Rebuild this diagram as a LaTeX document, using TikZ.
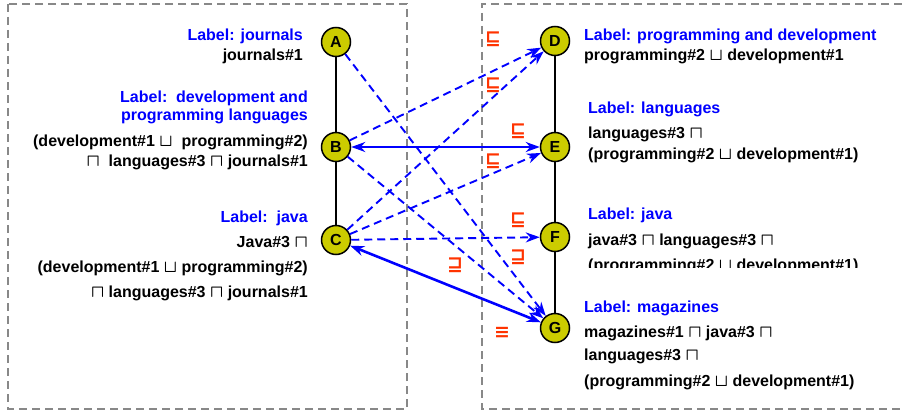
\documentclass[tikz,border=0pt]{standalone}
\usepackage{fontspec}
\setmainfont{Liberation Sans}
\newfontfamily\relfont{DejaVu Sans}
\usepackage{xcolor}
\usetikzlibrary{arrows.meta}
\definecolor{conceptfill}{HTML}{CCCC00}
\definecolor{relred}{HTML}{FF3300}
\definecolor{boxgray}{HTML}{888888}
\definecolor{lblblue}{HTML}{0000FF}

\begin{document}
\begin{tikzpicture}[
    x=1pt, y=-1pt,
    font=\fontsize{16}{19}\selectfont\bfseries\boldmath,
    concept/.style={circle, draw, line width=1.5pt, fill=conceptfill, minimum size=29pt, inner sep=0pt},
    lbl/.style={text=lblblue, inner sep=0pt},
    expr/.style={inner sep=0pt},
    rel/.style={text=relred, inner sep=0pt, font=\relfont\fontsize{19}{22}\selectfont\bfseries},
    groupbox/.style={draw=boxgray, line width=1.5pt, dash pattern=on 8pt off 5pt},
    link/.style={black, line width=1.3pt},
    subarrow/.style={-{Stealth[length=14pt, width=10pt]}, lblblue, line width=1.9pt, dash pattern=on 8pt off 5pt},
    eqarrow/.style={{Stealth[length=14pt, width=10pt]}-{Stealth[length=14pt, width=10pt]}, lblblue, line width=2.6pt}
]
\useasboundingbox (0,0) rectangle (902,412);

% Two dashed groups
\draw[groupbox] (8,4) rectangle (407,409);
\draw[groupbox] (902,4) -- (482,4) -- (482,409) -- (902,409);

% Left concepts
\node[concept] (A) at (336,42) {A};
\node[concept] (B) at (336,147) {B};
\node[concept] (C) at (336,240) {C};

% Right concepts
\node[concept] (D) at (555,41) {D};
\node[concept] (E) at (555,147) {E};
\node[concept] (F) at (555,237) {F};
\node[concept] (G) at (555,328) {G};

% Hierarchy lines
\draw[link] (A) -- (B);
\draw[link] (B) -- (C);
\draw[link] (D) -- (E);
\draw[link] (E) -- (F);
\draw[link] (F) -- (G);

% Left labels
\node[lbl, anchor=base east] (la1) at (303,41) {Label: journals};
\node[expr, anchor=base east] (la2) at (303,60) {journals\#1};
\node[lbl, anchor=base east] (lb1) at (308,102) {Label:~~development and};
\node[lbl, anchor=base east] (lb2) at (308,120) {programming languages};
\node[expr, anchor=base east] (lb3) at (308,146) {(development\#1 $\sqcup$~~programming\#2)};
\node[expr, anchor=base east] (lb4) at (308,166) {$\sqcap$~~languages\#3 $\sqcap$ journals\#1};
\node[lbl, anchor=base east] (lc1) at (308,222) {Label:~~java};
\node[expr, anchor=base east] (lc2) at (308,247) {Java\#3 $\sqcap$};
\node[expr, anchor=base east] (lc3) at (308,272) {(development\#1 $\sqcup$ programming\#2)};
\node[expr, anchor=base east] (lc4) at (308,297) {$\sqcap$ languages\#3 $\sqcap$ journals\#1};

% Right labels
\node[lbl, anchor=base west] (ld1) at (584,41) {Label: programming and development};
\node[expr, anchor=base west] (ld2) at (584,61) {programming\#2 $\sqcup$ development\#1};
\node[lbl, anchor=base west] (le1) at (588,113) {Label: languages};
\node[expr, anchor=base west] (le2) at (588,138) {languages\#3 $\sqcap$};
\node[expr, anchor=base west] (le3) at (588,159) {(programming\#2 $\sqcup$ development\#1)};
\node[lbl, anchor=base west] (lf1) at (588,219) {Label: java};
\node[expr, anchor=base west] (lf2) at (588,245) {java\#3 $\sqcap$ languages\#3 $\sqcap$};
\begin{scope}
  \clip (570,250) rectangle (902,267.5);
  \node[expr, anchor=base west] (lf3) at (588,270) {(programming\#2 $\sqcup$ development\#1)};
\end{scope}
\node[lbl, anchor=base west] (lg1) at (584,312) {Label: magazines};
\node[expr, anchor=base west] (lg2) at (584,337) {magazines\#1 $\sqcap$ java\#3 $\sqcap$};
\node[expr, anchor=base west] (lg3) at (584,360) {languages\#3 $\sqcap$};
\node[expr, anchor=base west] (lg4) at (584,386) {(programming\#2 $\sqcup$ development\#1)};

% Mappings between the groups
\draw[subarrow] (A) -- (G);
\draw[subarrow] (B) -- (D);
\draw[subarrow] (B) -- (G);
\draw[subarrow] (C) -- (D);
\draw[subarrow] (C) -- (E);
\draw[subarrow] (C) -- (F);
\draw[eqarrow] (B) -- (E);
\draw[eqarrow] (C) -- (G);

% Relation symbols
\node[rel] (s1) at (493,39) {⊑};
\node[rel] (s2) at (493,85) {⊑};
\node[rel] (s3) at (518,131) {⊑};
\node[rel] (s4) at (493,161) {⊑};
\node[rel] (s5) at (518,220) {⊑};
\node[rel] (s6) at (518,257) {⊒};
\node[rel] (s7) at (455,265) {⊒};
\node[rel] (s8) at (502,333) {≡};

\end{tikzpicture}
\end{document}
